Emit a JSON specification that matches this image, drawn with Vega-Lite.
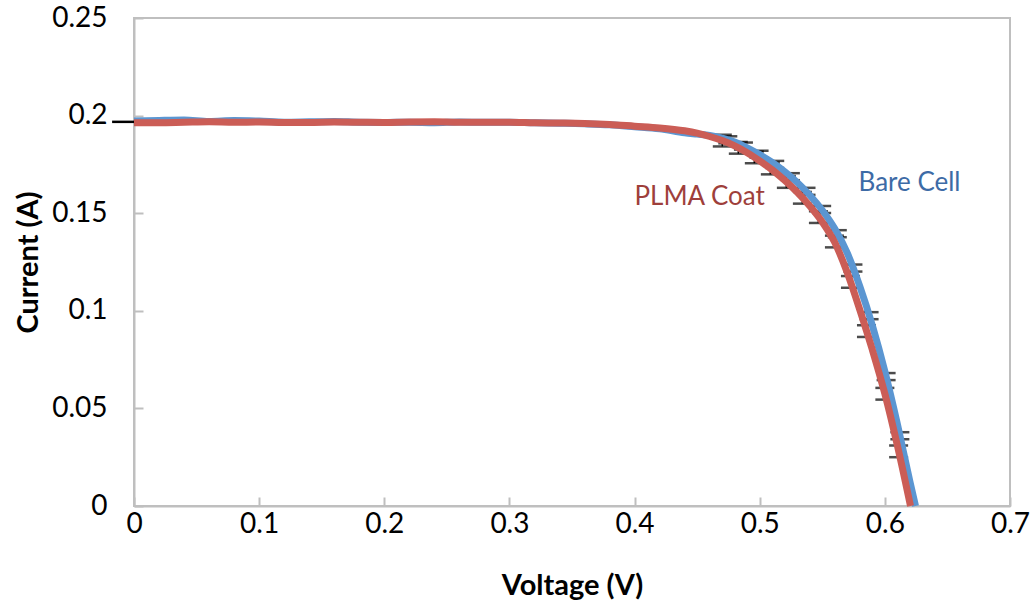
{
  "$schema": "https://vega.github.io/schema/vega-lite/v6.json",
  "width": 876,
  "height": 488,
  "autosize": "none",
  "padding": {"left": 134, "top": 18, "right": 24, "bottom": 98},
  "background": "white",
  "config": {
    "font": "Lato",
    "view": {"stroke": "#BFBFBF", "strokeWidth": 2},
    "axis": {
      "grid": false,
      "labelFlush": false,
      "domainColor": "#BFBFBF",
      "domainWidth": 2,
      "tickColor": "#BFBFBF",
      "tickWidth": 2,
      "tickSize": -9,
      "labelFont": "Lato",
      "labelFontSize": 28,
      "labelColor": "#000000",
      "titleFont": "Lato",
      "titleFontSize": 29,
      "titleFontWeight": "bold",
      "titleColor": "#000000"
    }
  },
  "datasets": {
    "curves": [
      {"series": "Bare Cell", "V": 0.0, "I": 0.1972},
      {"series": "Bare Cell", "V": 0.02, "I": 0.1975},
      {"series": "Bare Cell", "V": 0.04, "I": 0.1977},
      {"series": "Bare Cell", "V": 0.06, "I": 0.197},
      {"series": "Bare Cell", "V": 0.08, "I": 0.1975},
      {"series": "Bare Cell", "V": 0.1, "I": 0.1972},
      {"series": "Bare Cell", "V": 0.12, "I": 0.1966},
      {"series": "Bare Cell", "V": 0.14, "I": 0.1968},
      {"series": "Bare Cell", "V": 0.16, "I": 0.197},
      {"series": "Bare Cell", "V": 0.18, "I": 0.1966},
      {"series": "Bare Cell", "V": 0.2, "I": 0.1965},
      {"series": "Bare Cell", "V": 0.22, "I": 0.1966},
      {"series": "Bare Cell", "V": 0.24, "I": 0.1964},
      {"series": "Bare Cell", "V": 0.26, "I": 0.1967},
      {"series": "Bare Cell", "V": 0.28, "I": 0.1966},
      {"series": "Bare Cell", "V": 0.3, "I": 0.1966},
      {"series": "Bare Cell", "V": 0.32, "I": 0.1963},
      {"series": "Bare Cell", "V": 0.34, "I": 0.1961},
      {"series": "Bare Cell", "V": 0.36, "I": 0.1958},
      {"series": "Bare Cell", "V": 0.38, "I": 0.1953},
      {"series": "Bare Cell", "V": 0.4, "I": 0.1943},
      {"series": "Bare Cell", "V": 0.42, "I": 0.1932},
      {"series": "Bare Cell", "V": 0.44, "I": 0.1912},
      {"series": "Bare Cell", "V": 0.45, "I": 0.1905},
      {"series": "Bare Cell", "V": 0.46, "I": 0.1898},
      {"series": "Bare Cell", "V": 0.47, "I": 0.1885},
      {"series": "Bare Cell", "V": 0.48, "I": 0.1865},
      {"series": "Bare Cell", "V": 0.49, "I": 0.1835},
      {"series": "Bare Cell", "V": 0.5, "I": 0.18},
      {"series": "Bare Cell", "V": 0.51, "I": 0.176},
      {"series": "Bare Cell", "V": 0.52, "I": 0.1712},
      {"series": "Bare Cell", "V": 0.53, "I": 0.1657},
      {"series": "Bare Cell", "V": 0.54, "I": 0.1592},
      {"series": "Bare Cell", "V": 0.55, "I": 0.1515},
      {"series": "Bare Cell", "V": 0.56, "I": 0.142},
      {"series": "Bare Cell", "V": 0.57, "I": 0.1295},
      {"series": "Bare Cell", "V": 0.58, "I": 0.1125},
      {"series": "Bare Cell", "V": 0.59, "I": 0.0925},
      {"series": "Bare Cell", "V": 0.6, "I": 0.069},
      {"series": "Bare Cell", "V": 0.61, "I": 0.042},
      {"series": "Bare Cell", "V": 0.62, "I": 0.0125},
      {"series": "Bare Cell", "V": 0.6245, "I": 0.0},
      {"series": "PLMA Coat", "V": 0.0, "I": 0.1964},
      {"series": "PLMA Coat", "V": 0.02, "I": 0.1964},
      {"series": "PLMA Coat", "V": 0.04, "I": 0.1966},
      {"series": "PLMA Coat", "V": 0.06, "I": 0.1968},
      {"series": "PLMA Coat", "V": 0.08, "I": 0.1966},
      {"series": "PLMA Coat", "V": 0.1, "I": 0.1967},
      {"series": "PLMA Coat", "V": 0.12, "I": 0.1965},
      {"series": "PLMA Coat", "V": 0.14, "I": 0.1965},
      {"series": "PLMA Coat", "V": 0.16, "I": 0.1967},
      {"series": "PLMA Coat", "V": 0.18, "I": 0.1966},
      {"series": "PLMA Coat", "V": 0.2, "I": 0.1965},
      {"series": "PLMA Coat", "V": 0.22, "I": 0.1967},
      {"series": "PLMA Coat", "V": 0.24, "I": 0.1968},
      {"series": "PLMA Coat", "V": 0.26, "I": 0.1966},
      {"series": "PLMA Coat", "V": 0.28, "I": 0.1966},
      {"series": "PLMA Coat", "V": 0.3, "I": 0.1966},
      {"series": "PLMA Coat", "V": 0.32, "I": 0.1963},
      {"series": "PLMA Coat", "V": 0.34, "I": 0.1962},
      {"series": "PLMA Coat", "V": 0.36, "I": 0.196},
      {"series": "PLMA Coat", "V": 0.38, "I": 0.1955},
      {"series": "PLMA Coat", "V": 0.4, "I": 0.1946},
      {"series": "PLMA Coat", "V": 0.42, "I": 0.1937},
      {"series": "PLMA Coat", "V": 0.44, "I": 0.1922},
      {"series": "PLMA Coat", "V": 0.45, "I": 0.191},
      {"series": "PLMA Coat", "V": 0.46, "I": 0.1893},
      {"series": "PLMA Coat", "V": 0.47, "I": 0.1872},
      {"series": "PLMA Coat", "V": 0.48, "I": 0.1845},
      {"series": "PLMA Coat", "V": 0.49, "I": 0.181},
      {"series": "PLMA Coat", "V": 0.5, "I": 0.1768},
      {"series": "PLMA Coat", "V": 0.51, "I": 0.1722},
      {"series": "PLMA Coat", "V": 0.52, "I": 0.1668},
      {"series": "PLMA Coat", "V": 0.53, "I": 0.1607},
      {"series": "PLMA Coat", "V": 0.54, "I": 0.1537},
      {"series": "PLMA Coat", "V": 0.55, "I": 0.1455},
      {"series": "PLMA Coat", "V": 0.56, "I": 0.135},
      {"series": "PLMA Coat", "V": 0.57, "I": 0.1195},
      {"series": "PLMA Coat", "V": 0.58, "I": 0.1005},
      {"series": "PLMA Coat", "V": 0.59, "I": 0.08},
      {"series": "PLMA Coat", "V": 0.6, "I": 0.0575},
      {"series": "PLMA Coat", "V": 0.61, "I": 0.031},
      {"series": "PLMA Coat", "V": 0.6205, "I": 0.0}
    ],
    "errors": [
      {"series": "Bare Cell", "V": 0.4745, "lo": 0.1858, "hi": 0.1894},
      {"series": "Bare Cell", "V": 0.487, "lo": 0.1826, "hi": 0.1862},
      {"series": "Bare Cell", "V": 0.4995, "lo": 0.1784, "hi": 0.182},
      {"series": "Bare Cell", "V": 0.512, "lo": 0.1732, "hi": 0.1768},
      {"series": "Bare Cell", "V": 0.5245, "lo": 0.1669, "hi": 0.1705},
      {"series": "Bare Cell", "V": 0.537, "lo": 0.1594, "hi": 0.163},
      {"series": "Bare Cell", "V": 0.5495, "lo": 0.1501, "hi": 0.1537},
      {"series": "Bare Cell", "V": 0.562, "lo": 0.1377, "hi": 0.1413},
      {"series": "Bare Cell", "V": 0.5745, "lo": 0.1201, "hi": 0.1237},
      {"series": "Bare Cell", "V": 0.5874, "lo": 0.0957, "hi": 0.0993},
      {"series": "Bare Cell", "V": 0.601, "lo": 0.0645, "hi": 0.0681},
      {"series": "Bare Cell", "V": 0.612, "lo": 0.0342, "hi": 0.0378},
      {"series": "PLMA Coat", "V": 0.4701, "lo": 0.1842, "hi": 0.1902},
      {"series": "PLMA Coat", "V": 0.4829, "lo": 0.1805, "hi": 0.1865},
      {"series": "PLMA Coat", "V": 0.4957, "lo": 0.1756, "hi": 0.1816},
      {"series": "PLMA Coat", "V": 0.5085, "lo": 0.1699, "hi": 0.1759},
      {"series": "PLMA Coat", "V": 0.5213, "lo": 0.163, "hi": 0.169},
      {"series": "PLMA Coat", "V": 0.5341, "lo": 0.1549, "hi": 0.1609},
      {"series": "PLMA Coat", "V": 0.5469, "lo": 0.145, "hi": 0.151},
      {"series": "PLMA Coat", "V": 0.5597, "lo": 0.1325, "hi": 0.1385},
      {"series": "PLMA Coat", "V": 0.5725, "lo": 0.1118, "hi": 0.1178},
      {"series": "PLMA Coat", "V": 0.5853, "lo": 0.0866, "hi": 0.0926},
      {"series": "PLMA Coat", "V": 0.6, "lo": 0.0545, "hi": 0.0605},
      {"series": "PLMA Coat", "V": 0.611, "lo": 0.025, "hi": 0.031}
    ],
    "xerrors": [
      {"series": "PLMA Coat", "I": 0.1968, "lo": -0.0175, "hi": 0.0}
    ],
    "labels": [
      {"series": "PLMA Coat", "V": 0.452, "I": 0.1583, "text": "PLMA Coat"},
      {"series": "Bare Cell", "V": 0.6197, "I": 0.1655, "text": "Bare Cell"}
    ]
  },
  "layer": [
    {
      "data": {"name": "errors"},
      "mark": {"type": "rule", "color": "#000000", "strokeWidth": 1.5},
      "encoding": {
        "x": {"field": "V", "type": "quantitative", "scale": {"domain": [0, 0.7], "nice": false},
          "axis": {"values": [0, 0.1, 0.2, 0.3, 0.4, 0.5, 0.6, 0.7], "format": "~g", "title": "Voltage (V)", "labelPadding": 13, "titlePadding": 33}},
        "y": {"field": "lo", "type": "quantitative", "scale": {"domain": [0, 0.25], "nice": false},
          "axis": {"values": [0, 0.05, 0.1, 0.15, 0.2, 0.25], "format": "~g", "title": "Current (A)", "labelPadding": 36, "titlePadding": 8}},
        "y2": {"field": "hi"}
      }
    },
    {
      "data": {"name": "errors"},
      "mark": {"type": "tick", "orient": "horizontal", "color": "#000000", "size": 19, "thickness": 2.5},
      "encoding": {
        "x": {"field": "V", "type": "quantitative"},
        "y": {"field": "lo", "type": "quantitative"}
      }
    },
    {
      "data": {"name": "errors"},
      "mark": {"type": "tick", "orient": "horizontal", "color": "#000000", "size": 19, "thickness": 2.5},
      "encoding": {
        "x": {"field": "V", "type": "quantitative"},
        "y": {"field": "hi", "type": "quantitative"}
      }
    },
    {
      "data": {"name": "xerrors"},
      "mark": {"type": "rule", "color": "#000000", "strokeWidth": 2.5},
      "encoding": {
        "x": {"field": "lo", "type": "quantitative"},
        "x2": {"field": "hi"},
        "y": {"field": "I", "type": "quantitative"}
      }
    },
    {
      "data": {"name": "curves"},
      "mark": {"type": "line", "interpolate": "monotone", "strokeWidth": 7, "strokeCap": "butt", "strokeJoin": "round"},
      "encoding": {
        "x": {"field": "V", "type": "quantitative"},
        "y": {"field": "I", "type": "quantitative"},
        "color": {"field": "series", "type": "nominal",
          "scale": {"domain": ["Bare Cell", "PLMA Coat"], "range": ["#5B96D2", "#CB5D56"]},
          "legend": null},
        "order": {"field": "V", "type": "quantitative"}
      }
    },
    {
      "data": {"name": "labels"},
      "mark": {"type": "text", "font": "Lato", "fontSize": 26, "align": "center", "baseline": "middle"},
      "encoding": {
        "x": {"field": "V", "type": "quantitative"},
        "y": {"field": "I", "type": "quantitative"},
        "text": {"field": "text"},
        "color": {"field": "series", "type": "nominal",
          "scale": {"domain": ["Bare Cell", "PLMA Coat"], "range": ["#3D6BA6", "#9E3F3B"]},
          "legend": null}
      }
    }
  ],
  "resolve": {"scale": {"color": "independent"}}
}
